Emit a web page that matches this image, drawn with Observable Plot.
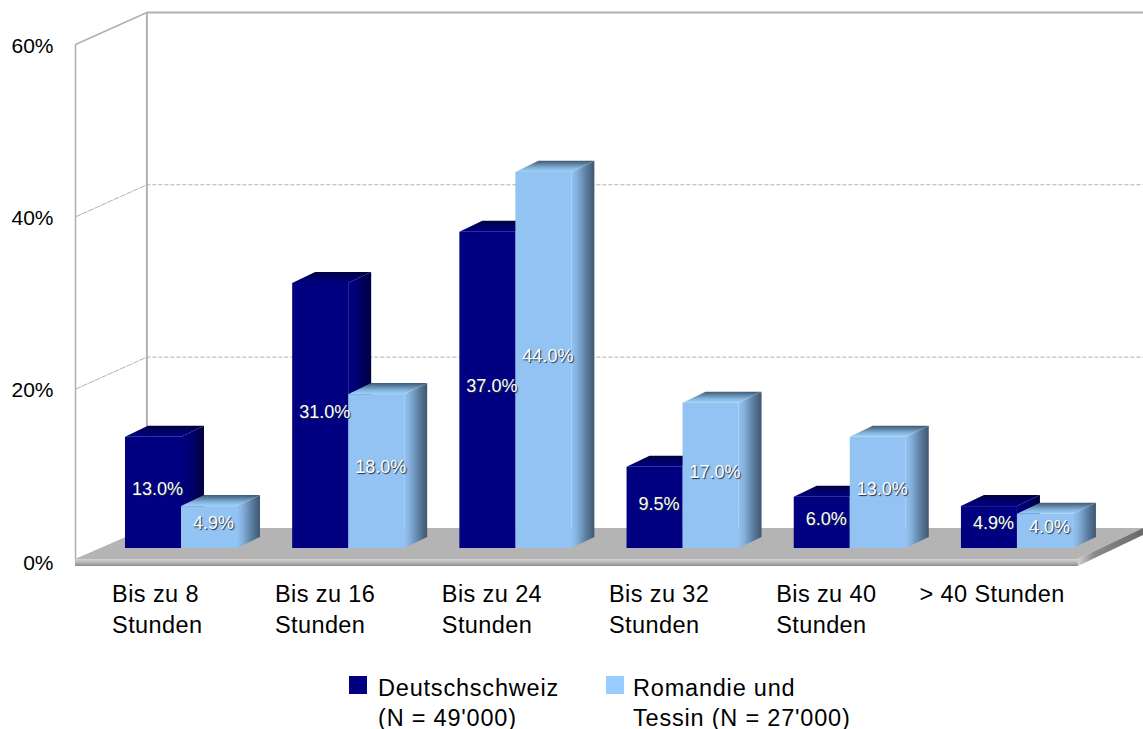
<!DOCTYPE html>
<html><head><meta charset="utf-8">
<script src="https://cdn.jsdelivr.net/npm/d3@7"></script>
<script src="https://cdn.jsdelivr.net/npm/@observablehq/plot@0.6"></script>
<style>
html,body{margin:0;padding:0;background:#fff;overflow:hidden}
body{font-family:"Liberation Sans",Arial,sans-serif;color:#000}
#legend{position:relative;height:59px;font-size:23.5px;line-height:22px;letter-spacing:.8px}
.sw{position:absolute;top:6px;width:18px;height:18px}
.lb{position:absolute;top:7px;white-space:pre}
.lb div{margin-bottom:8px}
.lb div:last-child{margin-bottom:0}
</style></head><body>
<div id="chart"></div>
<div id="legend"></div>
<script>
// data
const categories = ["Bis zu 8\nStunden","Bis zu 16\nStunden","Bis zu 24\nStunden","Bis zu 32\nStunden","Bis zu 40\nStunden","> 40 Stunden"];
const deutschschweiz = [13.0,31.0,37.0,9.5,6.0,4.9];
const romandieTessin = [4.9,18.0,44.0,17.0,13.0,4.0];
const yTicks = [0,20,40,60];
const seriesNames = ["Deutschschweiz\n(N = 49'000)","Romandie und\nTessin (N = 27'000)"];
const seriesColors = ["#000080","#93c3f3"];
const legendColors = ["#000080","#99ccff"];

// pseudo-3D geometry, in scale units (x: category index, y: percent)
const barW = 0.335, barDx = 0.1375, barDy = 1.28, barBase = 1.51, barGain = 0.992;
const wallL = -0.299, wallDx = 0.427, wallDy = 3.72, wallR = 6.089;
const floorFront = 0.23, floorBack = 3.83, lipH = 0.81, floorR = 5.7;
const labelNudge = [-0.08,-0.106,-0.108,-0.108,-0.108,-0.251];

const bars = [];
[deutschschweiz, romandieTessin].forEach((vals,s)=>vals.forEach((v,i)=>{
  bars.push({id:`${s}-${i}`,s,i,v,x1:i+s*barW,x2:i+(s+1)*barW,topY:barBase+v*barGain});
}));
const sideRows = s => bars.filter(b=>b.s===s).flatMap(b=>[
  {id:b.id,x:b.x2,y1:barBase,y2:b.topY},
  {id:b.id,x:b.x2+barDx,y1:barBase+barDy,y2:b.topY+barDy}
]);
const topRows = s => bars.filter(b=>b.s===s).flatMap(b=>[
  {id:b.id,x:b.x1,y1:b.topY,y2:b.topY},
  {id:b.id,x:b.x1+barDx,y1:b.topY,y2:b.topY+barDy},
  {id:b.id,x:b.x2,y1:b.topY,y2:b.topY+barDy},
  {id:b.id,x:b.x2+barDx,y1:b.topY+barDy,y2:b.topY+barDy}
]);
const floorRows = [
  {x:wallL,y1:floorFront,y2:floorFront},
  {x:wallL+wallDx,y1:floorFront,y2:floorBack},
  {x:floorR,y1:floorFront,y2:floorBack},
  {x:wallR,y1:floorBack,y2:floorBack}
];
const lipSideRows = [
  {x:floorR,y1:floorFront-lipH,y2:floorFront},
  {x:wallR,y1:floorBack-lipH,y2:floorBack}
];

function grad(id,horizontal,stops){
  const g=d3.create("svg:linearGradient").attr("id",id);
  if(horizontal) g.attr("x1",0).attr("y1",0).attr("x2",1).attr("y2",0);
  else g.attr("x1",0).attr("y1",0).attr("x2",0).attr("y2",1);
  stops.forEach(([o,c])=>g.append("stop").attr("offset",o).attr("stop-color",c));
  return g.node();
}
const defs = () => {
  const d=d3.create("svg:defs");
  [grad("sideD",true,[[0,"#000080"],[.4,"#000072"],[1,"#00003c"]]),
   grad("topD",false,[[0,"#000040"],[.5,"#000066"],[1,"#000080"]]),
   grad("sideL",true,[[0,"#93c3f3"],[.25,"#84afdb"],[.65,"#5a7d9f"],[1,"#3f566f"]]),
   grad("topL",false,[[0,"#405a74"],[.3,"#5f85a5"],[.65,"#85b4de"],[1,"#9fd2fb"]]),
   grad("lip",false,[[0,"#d4d4d4"],[.45,"#b8b8b8"],[1,"#8c8c8c"]]),
   grad("lipS",true,[[0,"#d0d0d0"],[.25,"#8a8a8a"],[1,"#6a6a6a"]])
  ].forEach(n=>d.node().appendChild(n));
  return d.node();
};

const stroke="#b0b0b0";
const gridTicks=yTicks.filter(t=>t>0&&t<60);
const faces = s => [
  Plot.area(sideRows(s),{x1:"x",y1:"y1",y2:"y2",z:"id",fill:`url(#side${"DL"[s]})`}),
  Plot.area(topRows(s),{x1:"x",y1:"y1",y2:"y2",z:"id",fill:`url(#top${"DL"[s]})`}),
  Plot.rect(bars.filter(b=>b.s===s),{x1:"x1",x2:"x2",y1:()=>barBase,y2:"topY",fill:seriesColors[s]})
];

const plot = Plot.plot({
  width:1143,height:670,marginLeft:75,marginRight:0,marginTop:0,marginBottom:0,
  x:{axis:null,domain:[wallL,wallR],range:[75,1143]},
  y:{axis:null,domain:[0,60],range:[561,44]},
  style:{fontFamily:"'Liberation Sans',Arial,sans-serif",background:"#fff",overflow:"visible"},
  marks:[
    defs,
    // walls
    Plot.ruleY(gridTicks,{y:d=>d+wallDy,x1:wallL+wallDx,x2:wallR,stroke,strokeDasharray:"4,2"}),
    Plot.ruleY([60],{y:d=>d+wallDy,x1:wallL+wallDx,x2:wallR,stroke,strokeWidth:2}),
    Plot.link(gridTicks,{x1:()=>wallL,y1:d=>d,x2:()=>wallL+wallDx,y2:d=>d+wallDy,stroke,strokeDasharray:"6,1"}),
    Plot.link([60],{x1:()=>wallL,y1:d=>d,x2:()=>wallL+wallDx,y2:d=>d+wallDy,stroke,strokeWidth:1.5}),
    Plot.ruleX([wallL],{y1:0,y2:60,stroke,strokeWidth:1.5}),
    Plot.ruleX([wallL+wallDx],{y1:floorBack,y2:60+wallDy,stroke,strokeWidth:2}),
    // floor
    Plot.area(floorRows,{x1:"x",y1:"y1",y2:"y2",fill:"#b4b4b4"}),
    Plot.rect([0],{x1:()=>wallL,x2:()=>floorR,y1:()=>floorFront,y2:()=>floorFront-lipH,fill:"url(#lip)"}),
    Plot.area(lipSideRows,{x1:"x",y1:"y1",y2:"y2",fill:"url(#lipS)"}),
    // bars
    ...faces(0),...faces(1),
    // labels
    Plot.text(bars,{x:d=>(d.x1+d.x2)/2,y:d=>(barBase+d.topY)/2,text:d=>d.v.toFixed(1)+"%",fill:"#fff",fontSize:18,dx:4,dy:-4}),
    Plot.axisY({ticks:yTicks,tickFormat:d=>d+"%",tickSize:0,tickPadding:22,fontSize:21,anchor:"left",label:null,dy:1.5,fill:"#000"}),
    Plot.text(categories,{x:(d,i)=>i+labelNudge[i],y:()=>-2.1,text:d=>d,textAnchor:"start",lineAnchor:"top",lineHeight:1.32,fontSize:23.5,fill:"#000"})
  ]
});
document.getElementById("chart").appendChild(plot);
d3.select(plot).selectAll("text").filter(function(){return /Stunden/.test(this.textContent)}).style("letter-spacing","0.4px");
d3.select(plot).selectAll("text").filter(function(){return /^\d+\.\d%$/.test(this.textContent)}).style("text-shadow","1px 1px 1px #1c2c44");

const lg=d3.select("#legend");
[[349,378],[606,633]].forEach(([a,b],i)=>{
  lg.append("div").attr("class","sw").style("left",a+"px").style("background",legendColors[i]);
  const l=lg.append("div").attr("class","lb").style("left",b+"px");
  seriesNames[i].split("\n").forEach(t=>l.append("div").text(t));
});
</script>
</body></html>
